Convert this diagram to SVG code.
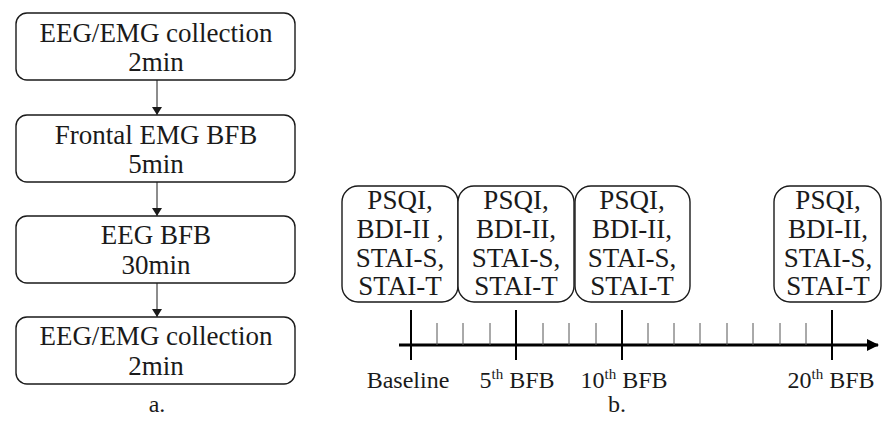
<svg xmlns="http://www.w3.org/2000/svg" width="883" height="437" viewBox="0 0 883 437">
<style>
.box{fill:#fff;stroke:#1a1a1a;stroke-width:1.4}
.t{font-family:'Liberation Serif','Times New Roman','DejaVu Serif',serif;font-size:27px;fill:#1a1a1a;text-anchor:middle}
.l{font-family:'Liberation Serif','Times New Roman','DejaVu Serif',serif;font-size:24px;fill:#1a1a1a;text-anchor:middle}
.sup{font-size:15px}
.conn{stroke:#1a1a1a;stroke-width:1;fill:none}
.axis{stroke:#000;stroke-width:3;fill:none}
.major{stroke:#000;stroke-width:2}
.minor{stroke:#555;stroke-width:1}
</style>
<defs>
<marker id="ah" viewBox="0 0 8 10" refX="8" refY="5" markerWidth="8" markerHeight="10" markerUnits="userSpaceOnUse" orient="auto">
<path d="M0,0 L8,5 L0,10 Z" fill="#1a1a1a"/>
</marker>
<marker id="axh" viewBox="0 0 12 12" refX="11" refY="6" markerWidth="12" markerHeight="12" markerUnits="userSpaceOnUse" orient="auto">
<path d="M0,0 L12,6 L0,12 Z" fill="#000"/>
</marker>
</defs>
<g id="flow-a">
<g id="n1"><rect class="box" x="16" y="13" width="279" height="67" rx="11"/><text class="t" x="156" y="42">EEG/EMG collection</text><text class="t" x="156" y="71">2min</text></g>
<g id="n2"><rect class="box" x="16" y="115" width="279" height="67" rx="11"/><text class="t" x="156" y="144">Frontal EMG BFB</text><text class="t" x="156" y="173">5min</text></g>
<g id="n3"><rect class="box" x="16" y="216" width="279" height="67" rx="11"/><text class="t" x="156" y="244">EEG BFB</text><text class="t" x="156" y="274">30min</text></g>
<g id="n4"><rect class="box" x="16" y="317" width="279" height="67" rx="11"/><text class="t" x="156" y="345">EEG/EMG collection</text><text class="t" x="156" y="375">2min</text></g>
</g>
<g id="connectors">
<line class="conn" x1="157" y1="80" x2="157" y2="115" marker-end="url(#ah)"/>
<line class="conn" x1="157" y1="182" x2="157" y2="216" marker-end="url(#ah)"/>
<line class="conn" x1="157" y1="283" x2="157" y2="317" marker-end="url(#ah)"/>
</g>
<g id="label-a"><text class="l" x="157" y="412">a.</text></g>
<g id="b1"><rect class="box" x="342" y="186" width="116" height="116" rx="16"/>
<text class="t" x="400" y="209">PSQI,</text><text class="t" x="400" y="238">BDI-II ,</text><text class="t" x="400" y="267">STAI-S,</text><text class="t" x="400" y="295">STAI-T</text></g>
<g id="b2"><rect class="box" x="458" y="186" width="116" height="116" rx="16"/>
<text class="t" x="516" y="209">PSQI,</text><text class="t" x="516" y="238">BDI-II,</text><text class="t" x="516" y="267">STAI-S,</text><text class="t" x="516" y="295">STAI-T</text></g>
<g id="b3"><rect class="box" x="575" y="186" width="115" height="116" rx="16"/>
<text class="t" x="632" y="209">PSQI,</text><text class="t" x="632" y="238">BDI-II,</text><text class="t" x="632" y="267">STAI-S,</text><text class="t" x="632" y="295">STAI-T</text></g>
<g id="b4"><rect class="box" x="774" y="186" width="107" height="116" rx="16"/>
<text class="t" x="828" y="209">PSQI,</text><text class="t" x="828" y="238">BDI-II,</text><text class="t" x="828" y="267">STAI-S,</text><text class="t" x="828" y="295">STAI-T</text></g>
<g id="timeline">
<line class="axis" x1="399" y1="345" x2="878" y2="345" marker-end="url(#axh)"/>
<g class="major">
<line x1="411" y1="310" x2="411" y2="360"/><line x1="516" y1="310" x2="516" y2="360"/><line x1="622" y1="310" x2="622" y2="360"/><line x1="832" y1="310" x2="832" y2="360"/>
</g>
<g class="minor">
<line x1="437" y1="323" x2="437" y2="345"/><line x1="463" y1="323" x2="463" y2="345"/><line x1="490" y1="323" x2="490" y2="345"/>
<line x1="543" y1="323" x2="543" y2="345"/><line x1="569" y1="323" x2="569" y2="345"/><line x1="596" y1="323" x2="596" y2="345"/>
<line x1="648" y1="323" x2="648" y2="345"/><line x1="674" y1="323" x2="674" y2="345"/><line x1="700" y1="323" x2="700" y2="345"/><line x1="727" y1="323" x2="727" y2="345"/><line x1="753" y1="323" x2="753" y2="345"/><line x1="780" y1="323" x2="780" y2="345"/><line x1="806" y1="323" x2="806" y2="345"/>
</g>
<text class="l" x="408" y="388">Baseline</text>
<text class="l" x="517" y="388">5<tspan class="sup" dy="-9">th</tspan><tspan dy="9"> BFB</tspan></text>
<text class="l" x="624" y="388">10<tspan class="sup" dy="-9">th</tspan><tspan dy="9"> BFB</tspan></text>
<text class="l" x="831" y="388">20<tspan class="sup" dy="-9">th</tspan><tspan dy="9"> BFB</tspan></text>
</g>
<g id="label-b"><text class="l" x="617" y="412">b.</text></g>
</svg>
